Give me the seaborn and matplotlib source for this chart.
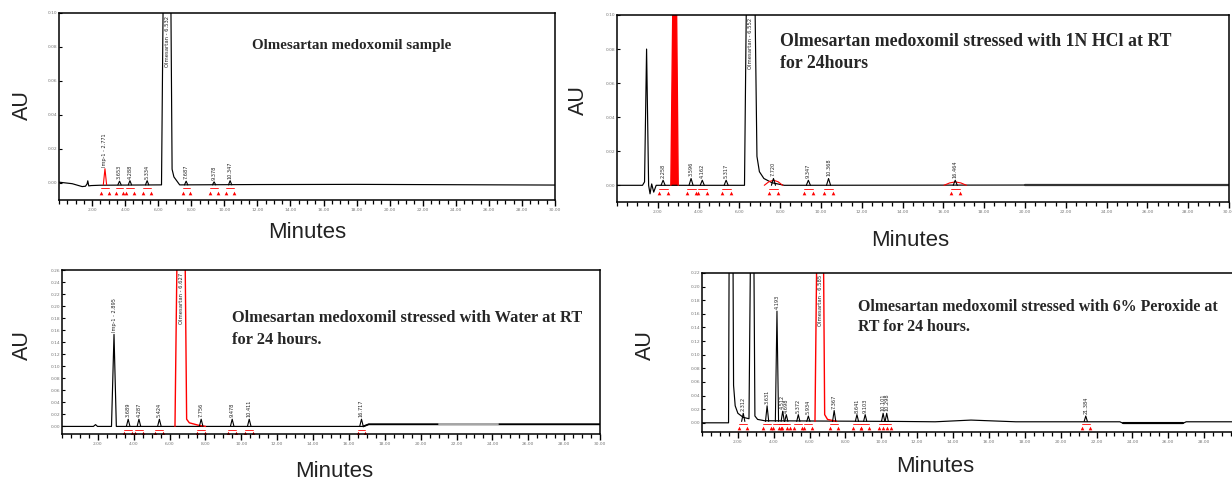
import numpy as np
import matplotlib
matplotlib.use("Agg")
import matplotlib.pyplot as plt
from matplotlib.ticker import FixedLocator, MultipleLocator, FormatStrFormatter
import seaborn as sns

# ------------------------------------------------------------------ data
X_TICKS = [2.0, 4.0, 6.0, 8.0, 10.0, 12.0, 14.0, 16.0, 18.0, 20.0, 22.0, 24.0, 26.0, 28.0, 30.0]

# Panel A : sample
A_title = ["Olmesartan medoxomil sample"]
A_yticks = [0.00, 0.02, 0.04, 0.06, 0.08, 0.10]
A_trace_t = [0.0, 0.8, 1.4, 1.6, 1.70, 1.74, 1.80, 1.95, 2.5, 6.20, 6.32, 6.75, 6.84, 6.95, 7.3, 12.0, 18.0, 24.0, 30.0]
A_trace_y = [0.0004, -0.0005, -0.0022, -0.0020, -0.0006, 0.0012, -0.0018, -0.0016, -0.0014, -0.0012, 0.13, 0.13, 0.008, 0.0035, -0.0012, -0.0010, -0.0009, -0.0011, -0.0013]
A_pk_rt = [2.78, 3.66, 4.29, 5.33, 7.69, 9.38, 10.35]
A_pk_h = [0.0095, 0.0022, 0.0025, 0.0025, 0.0022, 0.0018, 0.0025]
A_pk_lbl = ["Imp-1 - 2.771", "3.653", "4.288", "5.334", "7.687", "9.378", "10.347"]
A_main_rt = 6.54
A_main_lbl = "Olmesartan - 6.532"

# Panel B : 1N HCl
B_title = ["Olmesartan medoxomil stressed with 1N HCl at RT", "for 24hours"]
B_yticks = [0.00, 0.02, 0.04, 0.06, 0.08, 0.10]
B_trace_t = [0.0, 1.25, 1.35, 1.45, 1.55, 1.62, 1.70, 1.80, 1.92, 2.2, 6.25, 6.36, 6.74, 6.86, 6.98, 7.2, 7.6, 8.2, 30.0]
B_trace_y = [0.0, 0.0, 0.002, 0.080, 0.0, -0.005, 0.0008, -0.004, 0.0, 0.0, 0.0, 0.13, 0.13, 0.017, 0.008, 0.004, 0.0015, 0.0, 0.0003]
B_red_t = [2.64, 2.76, 2.90, 3.00]
B_red_y = [0.0, 0.13, 0.13, 0.0]
B_hump_rt = [7.67, 16.58]
B_hump_h = [0.003, 0.002]
B_hump_hw = [0.45, 0.55]
B_pk_rt = [2.26, 3.63, 4.18, 5.35, 7.67, 9.38, 10.37, 16.58]
B_pk_h = [0.003, 0.004, 0.003, 0.003, 0.004, 0.003, 0.004, 0.003]
B_pk_lbl = ["2.258", "3.596", "4.162", "5.317", "7.720", "9.347", "10.368", "16.464"]
B_main_rt = 6.55
B_main_lbl = "Olmesartan - 6.552"
B_noise_t = [20.0, 30.0]
B_noise_y = [0.0004, 0.0004]

# Panel C : water
C_title = ["Olmesartan medoxomil stressed with Water at RT", "for 24 hours."]
C_yticks = [0.00, 0.02, 0.04, 0.06, 0.08, 0.10, 0.12, 0.14, 0.16, 0.18, 0.20, 0.22, 0.24, 0.26]
C_trace_t = [0.0, 1.75, 1.87, 1.98, 2.76, 2.90, 3.03, 6.25, 16.8, 17.1, 30.0]
C_trace_y = [0.0, 0.0, 0.003, 0.0, 0.0, 0.153, 0.0, 0.0, 0.0, 0.0035, 0.0035]
C_red_t = [6.30, 6.42, 6.86, 6.95, 7.1, 7.6, 8.0]
C_red_y = [0.0, 0.30, 0.30, 0.012, 0.006, 0.002, 0.0]
C_pk_rt = [3.69, 4.29, 5.43, 7.76, 9.49, 10.44, 16.70]
C_pk_h = [0.012, 0.012, 0.012, 0.012, 0.012, 0.012, 0.012]
C_pk_lbl = ["3.689", "4.287", "5.424", "7.756", "9.478", "10.411", "16.717"]
C_first_rt = 2.90
C_first_h = 0.153
C_first_lbl = "Imp-1 - 2.895"
C_main_rt = 6.64
C_main_lbl = "Olmesartan - 6.627"
C_gray_t = [21.0, 24.3]
C_gray_y = [0.0035, 0.0035]

# Panel D : peroxide
D_title = ["Olmesartan medoxomil stressed with 6% Peroxide at", "RT for 24 hours."]
D_yticks = [0.00, 0.02, 0.04, 0.06, 0.08, 0.10, 0.12, 0.14, 0.16, 0.18, 0.20, 0.22]
D_trace_t = [0.0, 1.48, 1.52, 1.72, 1.76, 1.85, 2.0, 2.3, 2.62, 2.72, 2.88, 2.95, 3.1, 3.5, 11.0, 13.0, 15.0, 17.5, 23.3, 23.5, 26.8, 27.0, 30.0]
D_trace_y = [0.0, 0.0, 0.30, 0.30, 0.055, 0.025, 0.014, 0.008, 0.006, 0.30, 0.30, 0.010, 0.005, 0.003, 0.002, 0.0015, 0.004, 0.0015, 0.0015, -0.001, -0.001, 0.0015, 0.0015]
D_red_t = [6.30, 6.42, 6.76, 6.84, 7.0, 7.5]
D_red_y = [0.002, 0.30, 0.30, 0.012, 0.005, 0.002]
D_pk_rt = [2.30, 3.63, 4.18, 4.50, 4.70, 5.37, 5.93, 7.37, 8.64, 9.10, 10.10, 10.30, 21.4]
D_pk_h = [0.012, 0.023, 0.162, 0.015, 0.010, 0.010, 0.008, 0.016, 0.010, 0.010, 0.012, 0.012, 0.008]
D_pk_lbl = ["2.312", "3.631", "4.193", "4.512", "4.698", "5.372", "5.934", "7.367", "8.641", "9.103", "10.101", "10.298", "21.384"]
D_main_rt = 6.59
D_main_lbl = "Olmesartan - 6.585"
D_dip_t = [23.5, 26.8]
D_dip_y = [-0.001, -0.001]

# ------------------------------------------------------------------ style / layout
sns.set_theme(style="white")
plt.rcParams["font.family"] = ["DejaVu Sans"]

W, H = 1232, 478
fig = plt.figure(figsize=(W / 100, H / 100), dpi=100)

SERIF = ["Liberation Serif", "DejaVu Serif"]
SANS = ["Liberation Sans", "DejaVu Sans"]


def rect(l, t, r, b):
    return [l / W, 1 - b / H, (r - l) / W, (b - t) / H]


def line(ax, t, y, color, lw):
    sns.lineplot(x=t, y=y, ax=ax, color=color, lw=lw, estimator=None, sort=False)


def setup(ax, ymin, yticks):
    ax.set_xlim(0, 30)
    ax.set_ylim(ymin, yticks[-1])
    ax.xaxis.set_major_locator(FixedLocator(X_TICKS))
    ax.xaxis.set_major_formatter(FormatStrFormatter("%.2f"))
    ax.xaxis.set_minor_locator(MultipleLocator(0.5))
    ax.yaxis.set_major_locator(FixedLocator(yticks))
    ax.yaxis.set_major_formatter(FormatStrFormatter("%.2f"))
    ax.tick_params(axis="x", which="major", bottom=True, direction="out", length=4,
                   width=1.0, labelsize=3.2, labelcolor="#777", pad=1.5, color="black")
    ax.tick_params(axis="x", which="minor", bottom=True, direction="out", length=3,
                   width=0.9, color="black")
    ax.tick_params(axis="y", which="major", left=True, direction="in", length=2.5,
                   width=0.8, labelsize=3.2, labelcolor="#777", pad=1.5, color="black")
    for s in ax.spines.values():
        s.set_color("black")
        s.set_linewidth(1.1)
    ax.set_xlabel("")
    ax.set_ylabel("")


def small_peaks(ax, rt, h, lbl, floor, hw, ymax, red_idx=()):
    for i, (r, hh, s) in enumerate(zip(rt, h, lbl)):
        col = "red" if i in red_idx else "black"
        line(ax, [r - hw, r, r + hw], [floor, floor + hh, floor], col, 0.8)
        ax.text(r, floor + hh + 0.012 * ymax, s, rotation=90, fontsize=3.6,
                ha="center", va="bottom", color="#222")
    mk_t = np.ravel([[r - 0.22, r + 0.22] for r in rt])
    mk_y = np.full(len(mk_t), floor - 0.045 * ymax)
    sns.scatterplot(x=mk_t, y=mk_y, ax=ax, color="red", marker="^", s=7, linewidth=0)
    for r in rt:
        line(ax, [r - 0.22, r + 0.22], [floor - 0.02 * ymax] * 2, "red", 0.6)


def main_label(ax, rt, s, ymax):
    ax.text(rt, ymax * 0.985, s, rotation=90, fontsize=3.8, ha="center", va="top",
            color="#222")


# ---------------- Panel A
axA = fig.add_axes(rect(59, 13, 555, 200))
line(axA, A_trace_t, A_trace_y, "black", 0.85)
small_peaks(axA, A_pk_rt, A_pk_h, A_pk_lbl, -0.0012, 0.10, 0.10, red_idx=(0,))
main_label(axA, A_main_rt, A_main_lbl, 0.10)
setup(axA, -0.0101, A_yticks)

# ---------------- Panel B
axB = fig.add_axes(rect(617, 15, 1229, 202))
line(axB, B_trace_t, B_trace_y, "black", 0.85)
line(axB, B_noise_t, B_noise_y, "#333", 1.6)
axB.fill(B_red_t, B_red_y, color="red", lw=0)
line(axB, B_red_t, B_red_y, "red", 1.0)
for r, hh, hw in zip(B_hump_rt, B_hump_h, B_hump_hw):
    line(axB, [r - hw, r - hw / 2, r, r + hw / 2, r + hw], [0, hh * 0.7, hh, hh * 0.7, 0], "red", 0.8)
small_peaks(axB, B_pk_rt, B_pk_h, B_pk_lbl, 0.0, 0.10, 0.10)
main_label(axB, B_main_rt, B_main_lbl, 0.10)
setup(axB, -0.0098, B_yticks)

# ---------------- Panel C
axC = fig.add_axes(rect(62, 270, 600, 434))
line(axC, C_trace_t, C_trace_y, "black", 0.85)
line(axC, C_trace_t[-3:], C_trace_y[-3:], "black", 1.3)
line(axC, C_gray_t, C_gray_y, "#aaa", 1.4)
line(axC, C_red_t, C_red_y, "red", 1.0)
axC.text(C_first_rt, C_first_h + 0.004, C_first_lbl, rotation=90, fontsize=3.6,
         ha="center", va="bottom", color="#222")
small_peaks(axC, C_pk_rt, C_pk_h, C_pk_lbl, 0.0, 0.10, 0.26)
main_label(axC, C_main_rt, C_main_lbl, 0.26)
setup(axC, -0.0126, C_yticks)

# ---------------- Panel D
axD = fig.add_axes(rect(702, 273, 1240, 432))
line(axD, D_trace_t, D_trace_y, "black", 0.85)
line(axD, D_dip_t, D_dip_y, "black", 1.5)
line(axD, D_red_t, D_red_y, "red", 1.0)
small_peaks(axD, D_pk_rt, D_pk_h, D_pk_lbl, 0.002, 0.09, 0.22)
main_label(axD, D_main_rt, D_main_lbl, 0.22)
setup(axD, -0.0135, D_yticks)

# ---------------- titles and axis names
def ftext(x, y, s, **kw):
    fig.text(x / W, 1 - y / H, s, **kw)


ftext(352, 45, A_title[0], family=SERIF, weight="bold", fontsize=10.8, ha="center", va="center")
for i, s in enumerate(B_title):
    ftext(780, 42 + 21 * i, s, family=SERIF, weight="bold", fontsize=12.8, ha="left", va="center")
for i, s in enumerate(C_title):
    ftext(232, 318 + 22 * i, s, family=SERIF, weight="bold", fontsize=11.8, ha="left", va="center")
for i, s in enumerate(D_title):
    ftext(858, 307 + 20 * i, s, family=SERIF, weight="bold", fontsize=11.4, ha="left", va="center")

for (x, y) in [(22, 105), (578, 100), (22, 345), (645, 345)]:
    ftext(x, y, "AU", family=SANS, fontsize=15.5, rotation=90, ha="center", va="center", color="#222")
for (x, y) in [(307, 233), (910, 240), (935, 467)]:
    ftext(x, y, "Minutes", family=SANS, fontsize=16, ha="center", va="center", color="#222")
ftext(334, 461, "Minutes", family=SANS, fontsize=16, ha="center", va="top", color="#222")

fig.savefig("out.png", dpi=100)
